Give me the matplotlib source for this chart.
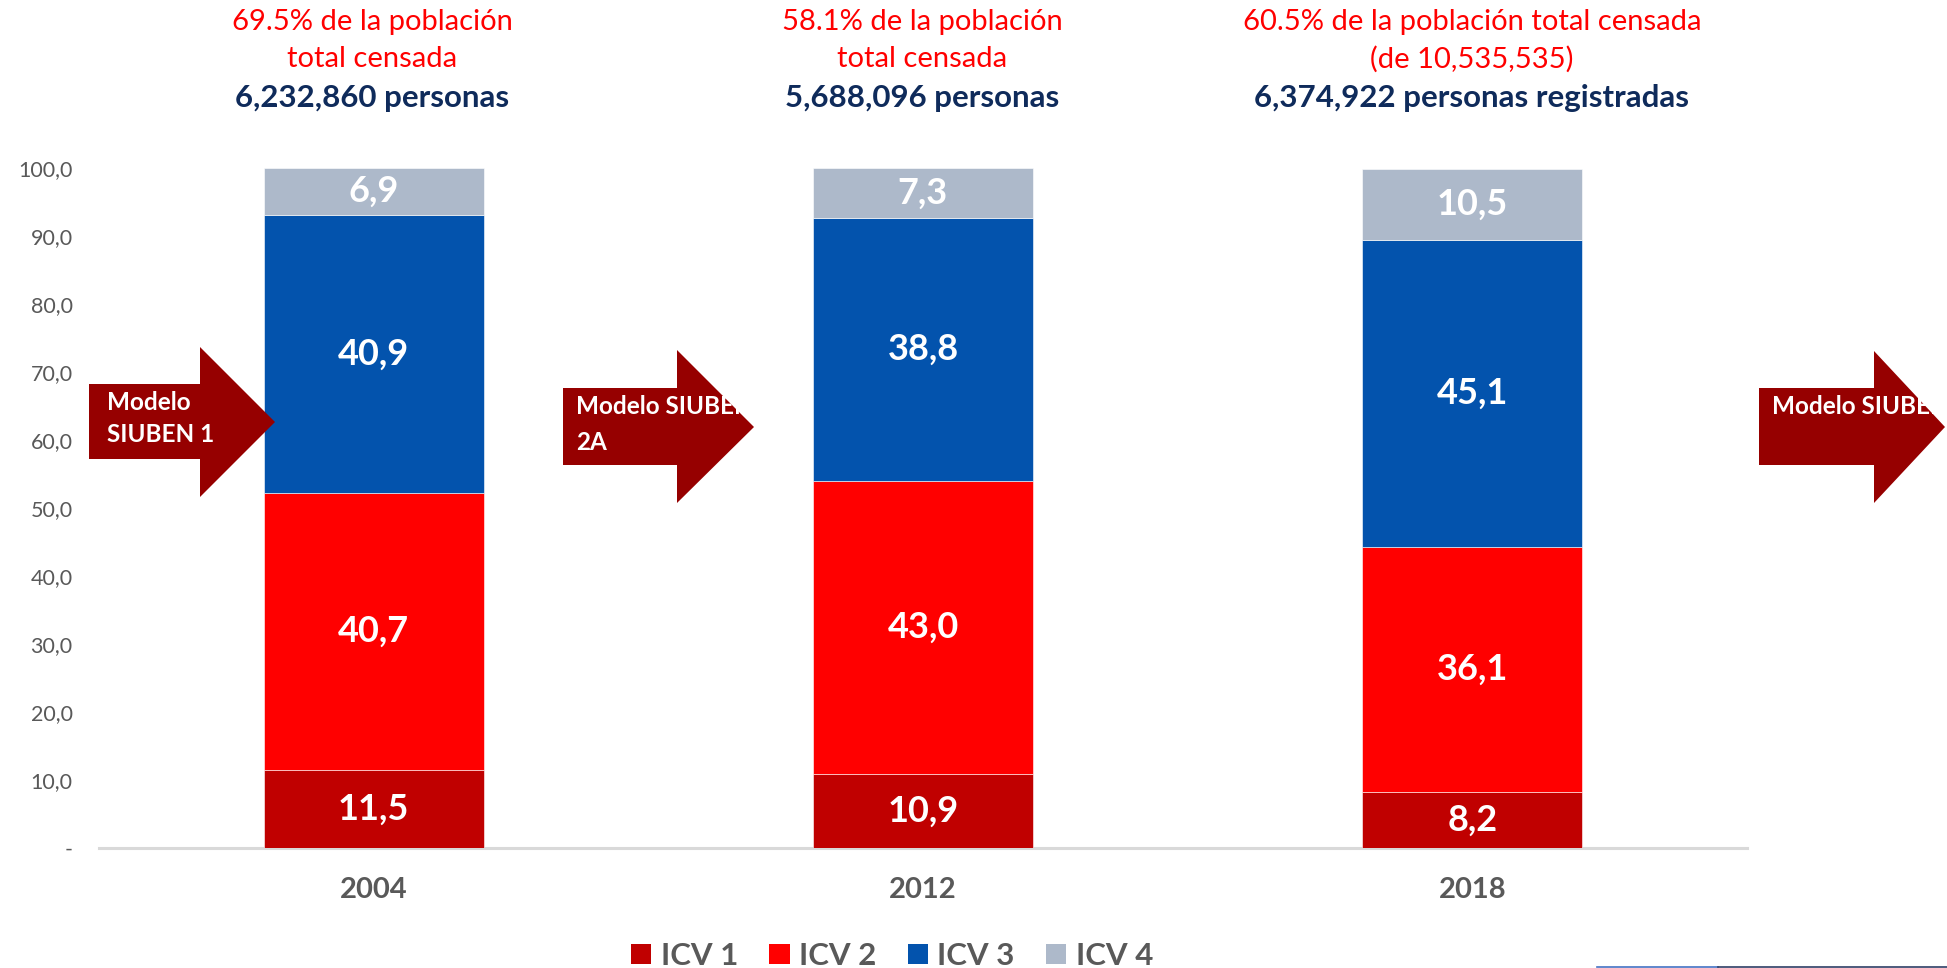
import matplotlib
matplotlib.use('Agg')
import matplotlib.pyplot as plt
from matplotlib.patches import Polygon, Patch
from matplotlib.lines import Line2D
import numpy as np

plt.rcParams['font.family'] = ['Lato', 'DejaVu Sans']

# datos
years = ['2004', '2012', '2018']
icv1 = [11.5, 10.9, 8.2]
icv2 = [40.7, 43.0, 36.1]
icv3 = [40.9, 38.8, 45.1]
icv4 = [6.9, 7.3, 10.5]
series_names = ['ICV 1', 'ICV 2', 'ICV 3', 'ICV 4']
yticks = [0, 10, 20, 30, 40, 50, 60, 70, 80, 90, 100]

header_red = [
    '69.5% de la población\ntotal censada',
    '58.1% de la población\ntotal censada',
    '60.5% de la población total censada\n(de 10,535,535)',
]
header_blue = ['6,232,860 personas', '5,688,096 personas', '6,374,922 personas registradas']

arrow_labels = [['Modelo', 'SIUBEN 1'], ['Modelo SIUBEN', '2A'], ['Modelo SIUBEN']]

colors = ['#C00000', '#FF0000', '#0353AD', '#ADB9CA']
navy = '#0F2B5B'
arrow_col = '#960000'

W, H = 1947, 968
fig = plt.figure(figsize=(W / 100, H / 100), dpi=100)


def fx(x):
    return x / W


def fy(y):
    return 1 - y / H


ax = fig.add_axes([fx(99), fy(848), fx(1747) - fx(99), fy(168) - fy(848)])

x = np.arange(len(years))
data = [icv1, icv2, icv3, icv4]
bottom = np.zeros(len(years))
for vals, col, name in zip(data, colors, series_names):
    vals = np.array(vals)
    ax.bar(x, vals, width=0.4, bottom=bottom, color=col, edgecolor='white',
           linewidth=0.4, label=name, zorder=2)
    for xi, b, v in zip(x, bottom, vals):
        ax.text(xi, b + v / 2, f'{v:.1f}'.replace('.', ','), ha='center', va='center',
                color='white', fontsize=26, fontweight='bold', zorder=3)
    bottom += vals

ax.set_xlim(-0.5, 2.5)
ax.set_ylim(0, 100)
ax.set_yticks(yticks)
ax.set_yticklabels(['-' if t == 0 else f'{t:.1f}'.replace('.', ',') for t in yticks],
                   fontsize=15.5, color='#595959')
ax.set_xticks(x)
ax.set_xticklabels(years, fontsize=21, fontweight='bold', color='#595959')
ax.tick_params(axis='y', length=0, pad=19)
ax.tick_params(axis='x', length=0, pad=21)
for s in ['top', 'right', 'left']:
    ax.spines[s].set_visible(False)
ax.spines['bottom'].set_color('#D9D9D9')
ax.spines['bottom'].set_linewidth(2.2)
ax.spines['bottom'].set_zorder(1)

# encabezados
centers = [372, 922, 1472]
for cx, red, blue in zip(centers, header_red, header_blue):
    for ln, yy in zip(red.split('\n'), [22, 59]):
        fig.text(fx(cx), fy(yy), ln, ha='center', va='center', color='#FF0000', fontsize=21)
    fig.text(fx(cx), fy(98), blue, ha='center', va='center', color=navy,
             fontsize=22.5, fontweight='bold')

# flechas
arrow_geo = [
    # body_left, head_start, body_top, body_bottom, head_top, head_bottom, tip_x, tip_y
    (89, 200, 384, 459, 347, 497, 275, 422),
    (563, 677, 388, 465, 350, 503, 754, 427),
    (1759, 1874, 388, 465, 351, 503, 1945, 427),
]
text_pos = [(107, [403, 435]), (576, [407, 442]), (1772, [407])]
for (bl, hs, bt, bb, ht, hb, tx, ty), lbls, (tx0, tys) in zip(arrow_geo, arrow_labels, text_pos):
    pts = [(bl, bt), (hs, bt), (hs, ht), (tx, ty), (hs, hb), (hs, bb), (bl, bb)]
    poly = Polygon([(fx(a), fy(b)) for a, b in pts], closed=True, transform=fig.transFigure,
                   facecolor=arrow_col, edgecolor='none', zorder=5)
    fig.add_artist(poly)
    for lb, yy in zip(lbls, tys):
        t = fig.text(fx(tx0), fy(yy), lb, ha='left', va='center', color='white',
                     fontsize=17.5, fontweight='bold', zorder=6)
        t.set_clip_path(poly)

# leyenda
handles = [Patch(facecolor=c, edgecolor='none') for c in colors]
fig.legend(handles, series_names, loc='center', bbox_to_anchor=(fx(892), fy(956)),
           ncol=4, frameon=False, handlelength=0.65, handleheight=0.65,
           handletextpad=0.3, columnspacing=1.0, prop={'weight': 'bold', 'size': 22.5},
           labelcolor='#595959')

# linea inferior derecha
fig.add_artist(Line2D([fx(1597), fx(1718)], [fy(966.5), fy(966.5)], transform=fig.transFigure,
                      color='#4472C4', linewidth=1.2))
fig.add_artist(Line2D([fx(1718), fx(1947)], [fy(966.5), fy(966.5)], transform=fig.transFigure,
                      color='#2F3E66', linewidth=1.2))

fig.savefig('out.png', dpi=100, facecolor='white')
